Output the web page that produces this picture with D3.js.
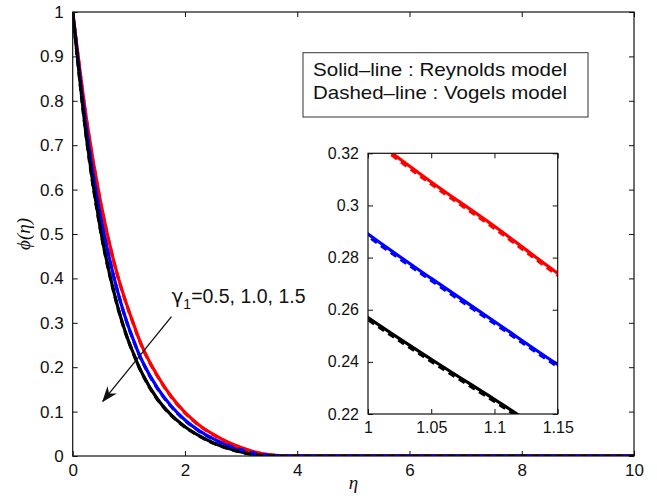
<!DOCTYPE html>
<html>
<head>
<meta charset="utf-8">
<script src="https://cdn.jsdelivr.net/npm/d3@7"></script>
<style>
  body { margin: 0; background: #fff; }
  text { font-family: "Liberation Sans", Arial, Helvetica, sans-serif; fill: #111; }
</style>
</head>
<body>
<div id="chart"></div>
<script>
// eta grid shared by every curve
var eta = [0, 0.25, 0.5, 0.75, 1, 1.05, 1.1, 1.15, 1.25, 1.5, 1.75, 2, 2.25, 2.5, 2.75, 3, 3.25, 3.5, 3.75, 4, 10];

// Reynolds model (solid) for gamma1 = 0.5, 1.0, 1.5
var rey05 = [1, 0.755, 0.570, 0.430, 0.327, 0.309, 0.292, 0.274, 0.243, 0.183, 0.135, 0.098, 0.070, 0.049, 0.032, 0.019, 0.009, 0.003, 0.0005, 0, 0];
var rey10 = [1, 0.733, 0.538, 0.395, 0.289, 0.272, 0.2555, 0.239, 0.211, 0.155, 0.113, 0.081, 0.057, 0.039, 0.025, 0.014, 0.006, 0.0015, 0, 0, 0];
var rey15 = [1, 0.712, 0.507, 0.361, 0.257, 0.241, 0.2256, 0.210, 0.183, 0.130, 0.093, 0.066, 0.046, 0.030, 0.018, 0.009, 0.003, 0.0005, 0, 0, 0];

// Vogels model (dashed)
var vog05 = [1, 0.753, 0.568, 0.429, 0.3262, 0.3082, 0.2912, 0.2732, 0.242, 0.182, 0.134, 0.097, 0.069, 0.048, 0.031, 0.018, 0.0085, 0.0028, 0.0004, 0, 0];
var vog10 = [1, 0.731, 0.536, 0.394, 0.2882, 0.2712, 0.2547, 0.2382, 0.210, 0.154, 0.112, 0.080, 0.056, 0.038, 0.024, 0.0135, 0.0055, 0.0013, 0, 0, 0];
var vog15 = [1, 0.710, 0.505, 0.360, 0.2562, 0.2402, 0.2248, 0.2092, 0.182, 0.129, 0.092, 0.065, 0.045, 0.029, 0.0175, 0.0085, 0.0028, 0.0004, 0, 0, 0];

var colors = ["#ff0000", "#0000ff", "#000000"];

var xTicks = [0, 2, 4, 6, 8, 10];
var yTicks = [0, 0.1, 0.2, 0.3, 0.4, 0.5, 0.6, 0.7, 0.8, 0.9, 1];
var insetXTicks = [1, 1.05, 1.1, 1.15];
var insetYTicks = [0.22, 0.24, 0.26, 0.28, 0.3, 0.32];

var legendLines = ["Solid\u2013line : Reynolds model", "Dashed\u2013line : Vogels model"];

var W = 657, H = 499;
var svg = d3.select("#chart").append("svg")
  .attr("width", W).attr("height", H);

var fmt = function(d) { return String(+d.toFixed(2)); };

function series(ys) {
  return eta.map(function(e, i) { return {x: e, y: ys[i]}; });
}
var solids = [rey05, rey10, rey15];
var dashes = [vog05, vog10, vog15];

function drawPanel(g, x, y, xt, yt, fs, clipId) {
  var x0 = x.range()[0], x1 = x.range()[1], y0 = y.range()[0], y1 = y.range()[1];

  g.append("rect").attr("x", x0).attr("y", y1)
    .attr("width", x1 - x0).attr("height", y0 - y1).attr("fill", "#fff");

  g.append("clipPath").attr("id", clipId).append("rect")
    .attr("x", x0).attr("y", y1).attr("width", x1 - x0).attr("height", y0 - y1);

  var line = d3.line().x(function(d) { return x(d.x); }).y(function(d) { return y(d.y); })
    .curve(d3.curveMonotoneX);

  var plot = g.append("g").attr("clip-path", "url(#" + clipId + ")");
  solids.forEach(function(s, i) {
    plot.append("path").attr("d", line(series(s))).attr("fill", "none")
      .attr("stroke", colors[i]).attr("stroke-width", 3.2);
  });
  dashes.forEach(function(s, i) {
    plot.append("path").attr("d", line(series(s))).attr("fill", "none")
      .attr("stroke", colors[i]).attr("stroke-width", 3.2).attr("stroke-dasharray", "7,5");
  });

  var ax = function(a) {
    a.select(".domain").remove();
    a.selectAll("line").attr("stroke", "#111");
    a.selectAll("text").style("font-size", fs + "px").attr("fill", "#111");
  };
  g.append("g").attr("transform", "translate(0," + y0 + ")")
    .call(d3.axisBottom(x).tickValues(xt).tickFormat(fmt).tickSizeInner(-5).tickSizeOuter(0).tickPadding(8))
    .call(ax);
  g.append("g").attr("transform", "translate(0," + y1 + ")")
    .call(d3.axisTop(x).tickValues(xt).tickFormat("").tickSizeInner(-5).tickSizeOuter(0))
    .call(ax);
  g.append("g").attr("transform", "translate(" + x0 + ",0)")
    .call(d3.axisLeft(y).tickValues(yt).tickFormat(fmt).tickSizeInner(-5).tickSizeOuter(0).tickPadding(9))
    .call(ax);
  g.append("g").attr("transform", "translate(" + x1 + ",0)")
    .call(d3.axisRight(y).tickValues(yt).tickFormat("").tickSizeInner(-5).tickSizeOuter(0))
    .call(ax);

  g.append("rect").attr("x", x0).attr("y", y1)
    .attr("width", x1 - x0).attr("height", y0 - y1)
    .attr("fill", "none").attr("stroke", "#111").attr("stroke-width", 1.2);
}

// main axes
var x = d3.scaleLinear().domain([0, 10]).range([72.7, 634]);
var y = d3.scaleLinear().domain([0, 1]).range([456, 12]);
drawPanel(svg.append("g"), x, y, xTicks, yTicks, 17, "clipMain");

// axis titles
svg.append("text").attr("x", (x(0) + x(10)) / 2).attr("y", 489)
  .attr("text-anchor", "middle")
  .style("font-family", "'Liberation Serif', 'Times New Roman', serif")
  .style("font-style", "italic").style("font-size", "19px").text("\u03b7");

svg.append("text").attr("transform", "translate(30," + ((y(0) + y(1)) / 2) + ") rotate(-90)")
  .attr("text-anchor", "middle")
  .style("font-family", "'Liberation Serif', 'Times New Roman', serif")
  .style("font-style", "italic").style("font-size", "19px").text("\u03d5(\u03b7)");

// gamma annotation with arrow
svg.append("defs").append("marker")
  .attr("id", "arrowHead").attr("viewBox", "0 0 16 12")
  .attr("refX", 15).attr("refY", 6)
  .attr("markerWidth", 16).attr("markerHeight", 12)
  .attr("markerUnits", "userSpaceOnUse").attr("orient", "auto")
  .append("path").attr("d", "M0,0 L16,6 L0,12 L5,6 Z").attr("fill", "#111");

svg.append("line")
  .attr("x1", x(1.76)).attr("y1", y(0.314))
  .attr("x2", x(0.535)).attr("y2", y(0.123))
  .attr("stroke", "#111").attr("stroke-width", 1.3)
  .attr("marker-end", "url(#arrowHead)");

var gt = svg.append("text").attr("x", x(1.76)).attr("y", y(0.345)).style("font-size", "19.5px");
gt.append("tspan").style("font-family", "'DejaVu Sans', sans-serif").style("font-size", "20px").text("\u03b3");
gt.append("tspan").attr("dy", 6).style("font-size", "14px").text("1");
gt.append("tspan").attr("dy", -6).text("=0.5, 1.0, 1.5");

// legend box
var lg = svg.append("g");
lg.append("rect").attr("x", 303).attr("y", 52.7).attr("width", 285).attr("height", 64.3)
  .attr("fill", "#fff").attr("stroke", "#333").attr("stroke-width", 1);
legendLines.forEach(function(t, i) {
  lg.append("text").attr("x", 313).attr("y", 76 + i * 22.7)
    .attr("textLength", 254).attr("lengthAdjust", "spacingAndGlyphs")
    .style("font-size", "19px").text(t);
});

// inset
var xi = d3.scaleLinear().domain([1, 1.15]).range([368, 557.7]);
var yi = d3.scaleLinear().domain([0.22, 0.32]).range([414, 153.3]);
drawPanel(svg.append("g"), xi, yi, insetXTicks, insetYTicks, 16, "clipInset");
</script>
</body>
</html>
